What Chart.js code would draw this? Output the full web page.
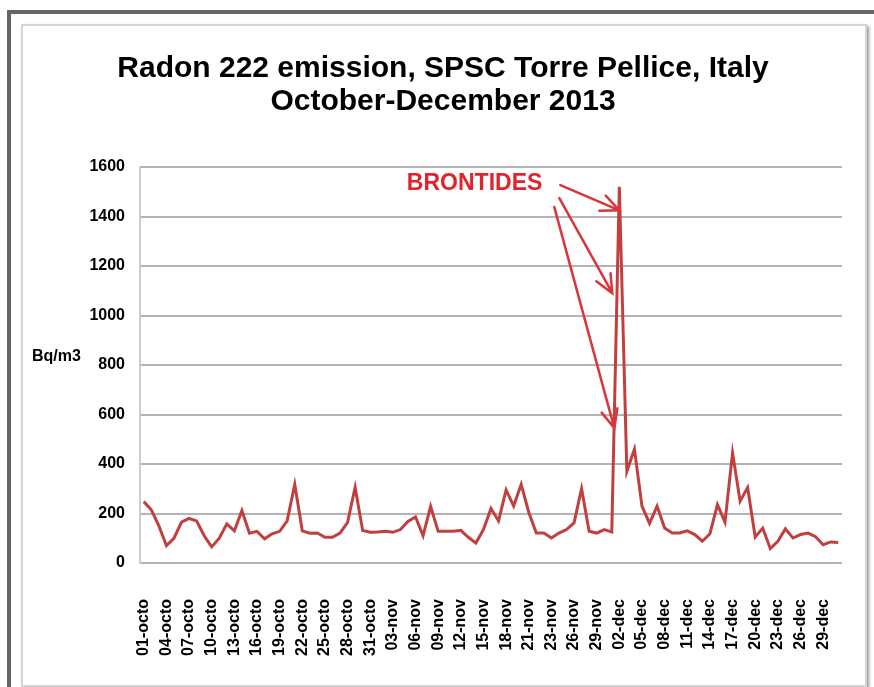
<!DOCTYPE html>
<html>
<head>
<meta charset="utf-8">
<script src="https://cdn.jsdelivr.net/npm/chart.js@4.4.1/dist/chart.umd.min.js"></script>
<style>
    html, body { margin: 0; padding: 0; background: #fff; }
    body { width: 874px; height: 687px; position: relative; overflow: hidden; }
    .outer {
        position: absolute; left: 7px; top: 10px; right: 0; bottom: 0;
        border-top: 4px solid #666; border-left: 4px solid #666;
    }
    .panel {
        position: absolute; left: 21px; top: 24px; width: 842px; height: 659px;
        border: 2px solid #d4d4d4; box-shadow: 2px 2px 3px #999; background: #fff;
    }
    #wrap { position: absolute; left: 0; top: 0; width: 874px; height: 687px; }
</style>
</head>
<body>
<div class="outer"></div>
<div class="panel"></div>
<div id="wrap"><canvas id="radon-chart"></canvas></div>
<script>
// =======================
// Data
// =======================
const octDays = [
    "01-octo", "02-octo", "03-octo", "04-octo", "05-octo", "06-octo", "07-octo", "08-octo",
    "09-octo", "10-octo", "11-octo", "12-octo", "13-octo", "14-octo", "15-octo", "16-octo",
    "17-octo", "18-octo", "19-octo", "20-octo", "21-octo", "22-octo", "23-octo", "24-octo",
    "25-octo", "26-octo", "27-octo", "28-octo", "29-octo", "30-octo", "31-octo"
];
const novDays = [
    "01-nov", "02-nov", "03-nov", "04-nov", "05-nov", "06-nov", "07-nov", "08-nov",
    "09-nov", "10-nov", "11-nov", "12-nov", "13-nov", "14-nov", "15-nov", "16-nov",
    "17-nov", "18-nov", "19-nov", "20-nov", "21-nov", "22-nov", "22-nov", "23-nov",
    "24-nov", "25-nov", "26-nov", "27-nov", "28-nov", "29-nov", "30-nov"
];
const decDays = [
    "01-dec", "02-dec", "03-dec", "04-dec", "05-dec", "06-dec", "07-dec", "08-dec",
    "09-dec", "10-dec", "11-dec", "12-dec", "13-dec", "14-dec", "15-dec", "16-dec",
    "17-dec", "18-dec", "19-dec", "20-dec", "21-dec", "22-dec", "23-dec", "24-dec",
    "25-dec", "26-dec", "27-dec", "28-dec", "29-dec", "30-dec", "31-dec"
];

// Bq/m3
const octValues = [
    248, 215, 150, 70, 100, 165, 180, 170, 110, 65, 100, 158, 130, 212, 120, 128,
    98, 118, 128, 170, 318, 130, 120, 121, 104, 104, 121, 164, 306, 131, 124
];
const novValues = [
    125, 128, 124, 135, 168, 186, 110, 229, 128, 128, 128, 132, 104, 81, 135, 220,
    170, 295, 230, 318, 205, 121, 121, 101, 121, 135, 162, 300, 128, 121, 135
];
const decValues = [
    125, 1520, 370, 460, 230, 160, 230, 141, 121, 121, 130, 115, 88, 118, 236, 165,
    445, 250, 305, 105, 141, 58, 88, 138, 101, 115, 121, 106, 74, 85, 83
];

const yTicks = [0, 200, 400, 600, 800, 1000, 1200, 1400, 1600];

const days = [...octDays, ...novDays, ...decDays];
const radon = [...octValues, ...novValues, ...decValues];

const fontFamily = '"Liberation Sans", Arial, sans-serif';

// =======================
// Annotations: axis unit + BRONTIDES arrows
// =======================
function drawArrow(ctx, x0, y0, x1, y1) {
    const ang = Math.atan2(y1 - y0, x1 - x0);
    const head = 20;
    ctx.beginPath();
    ctx.moveTo(x0, y0);
    ctx.lineTo(x1, y1);
    ctx.moveTo(x1 - head * Math.cos(ang - 0.42), y1 - head * Math.sin(ang - 0.42));
    ctx.lineTo(x1, y1);
    ctx.lineTo(x1 - head * Math.cos(ang + 0.42), y1 - head * Math.sin(ang + 0.42));
    ctx.stroke();
}

const notesPlugin = {
    id: 'notes',
    afterDatasetsDraw(chart) {
        const { ctx, chartArea, scales: { x, y } } = chart;
        ctx.save();

        ctx.font = 'bold 16px ' + fontFamily;
        ctx.fillStyle = '#000';
        ctx.textAlign = 'left';
        ctx.textBaseline = 'middle';
        ctx.fillText('Bq/m3', chartArea.left - 108, y.getPixelForValue(832));

        const spike = radon.indexOf(Math.max(...radon));
        const sx = x.getPixelForValue(spike);
        const ty = y.getPixelForValue(1531);

        ctx.font = 'bold 23px ' + fontFamily;
        ctx.fillStyle = '#e0242b';
        ctx.textAlign = 'right';
        ctx.fillText('BRONTIDES', sx - 77, ty);

        ctx.strokeStyle = '#d9363c';
        ctx.lineWidth = 2.5;
        ctx.lineCap = 'round';
        drawArrow(ctx, sx - 59, ty + 1, sx, y.getPixelForValue(1425));
        drawArrow(ctx, sx - 60, ty + 14, sx - 7, y.getPixelForValue(1090));
        drawArrow(ctx, sx - 65, ty + 23, sx - 5, y.getPixelForValue(545));

        ctx.restore();
    }
};

// =======================
// The Line Graph
// =======================
const radonCanvas = document.querySelector('#radon-chart');
const radonData = {
    labels: days,
    datasets: [{
        data: radon,
        borderColor: '#c1403f',
        borderWidth: 3,
        pointRadius: 0,
        tension: 0,
        fill: false
    }]
};
const radonOptions = {
    responsive: true,
    maintainAspectRatio: false,
    animation: false,
    layout: {
        padding: { top: 0, left: 44, right: 32, bottom: 14 }
    },
    scales: {
        x: {
            offset: true,
            grid: { display: false },
            border: { display: false },
            afterFit: scale => {
                scale.height = 110;
                scale.paddingLeft = 0;
                scale.paddingRight = 0;
            },
            ticks: {
                autoSkip: false,
                maxRotation: 90,
                minRotation: 90,
                padding: 28,
                color: '#000',
                font: { family: fontFamily, size: 16, weight: 'bold' },
                callback: function (val, i) {
                    return i % 3 === 0 ? this.getLabelForValue(val) : '';
                }
            }
        },
        y: {
            min: yTicks[0],
            max: yTicks[yTicks.length - 1],
            afterBuildTicks: scale => {
                scale.ticks = yTicks.map(v => ({ value: v }));
            },
            afterFit: scale => {
                scale.width = 96;
            },
            grid: {
                color: '#b4b4b4',
                lineWidth: 2,
                drawTicks: false
            },
            border: { display: true, color: '#cccccc', width: 2 },
            ticks: {
                padding: 15,
                color: '#000',
                font: { family: fontFamily, size: 16, weight: 'bold' },
                callback: v => String(v)
            }
        }
    },
    plugins: {
        legend: { display: false },
        tooltip: { enabled: false },
        title: {
            display: true,
            text: ['Radon 222 emission, SPSC Torre Pellice, Italy', 'October-December 2013'],
            color: '#000',
            font: { family: fontFamily, size: 30, weight: 'bold', lineHeight: 1.1 },
            padding: { top: 52, bottom: 49 }
        }
    }
};
let radonChart = new Chart(radonCanvas, {
    type: 'line',
    data: radonData,
    options: radonOptions,
    plugins: [notesPlugin]
});
</script>
</body>
</html>
